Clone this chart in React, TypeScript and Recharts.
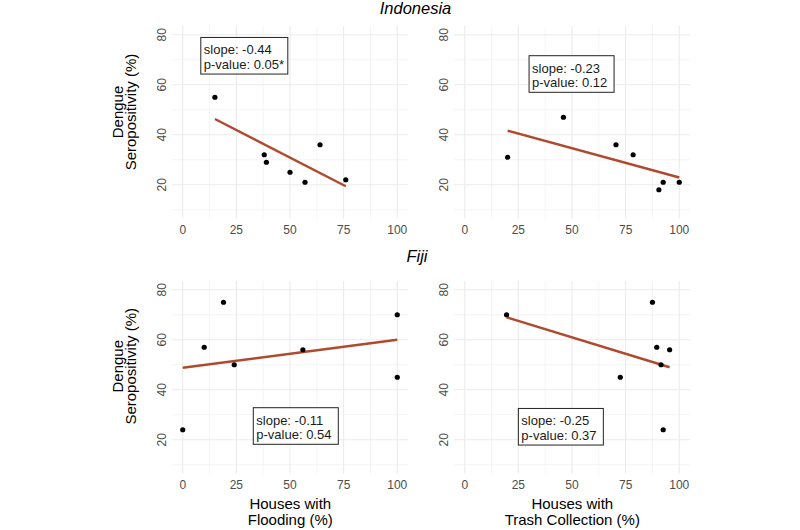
import { ScatterChart, Scatter, XAxis, YAxis, ReferenceLine, ReferenceDot } from 'recharts';

// axis breaks shared by all four panels
const xTicks = [0, 25, 50, 75, 100];
const xMinor = [12.5, 37.5, 62.5, 87.5];
const yTicks = [20, 40, 60, 80];
const yMinor = [10, 30, 50, 70];

// Indonesia - flooding
const idnFloodX = [15, 38, 39, 50, 57, 64, 76];
const idnFloodY = [55, 32, 29, 25, 21, 36, 22];
const idnFloodFitX = [15, 76];
const idnFloodFitY = [46.3, 19.4];

// Indonesia - trash collection
const idnTrashX = [20, 46, 70.5, 78.5, 90.5, 92.5, 100];
const idnTrashY = [31, 47, 36, 32, 18, 21, 21];
const idnTrashFitX = [20, 100];
const idnTrashFitY = [41.6, 22.9];

// Fiji - flooding
const fjiFloodX = [0, 10, 19, 24, 56, 100, 100];
const fjiFloodY = [24, 57, 75, 50, 56, 70, 45];
const fjiFloodFitX = [0, 100];
const fjiFloodFitY = [48.8, 60];

// Fiji - trash collection
const fjiTrashX = [19.5, 72.5, 87.5, 89.5, 91.5, 92.5, 95.5];
const fjiTrashY = [70, 45, 75, 57, 50, 24, 56];
const fjiTrashFitX = [19.5, 95.5];
const fjiTrashFitY = [69, 49];

const FONT = '"Liberation Sans", Arial, Helvetica, sans-serif';
const GRID = '#EBEBEB';
const FIT = '#B04A2F';
const TICK = '#4D4D4D';

const PW = 236;
const PH = 192.5;
const AXW = 45;
const AXH = 30;

const XTick = (props: any) => (
  <text x={props.x} y={PH + 15.3} textAnchor="middle" fill={TICK} fontSize={12} fontFamily={FONT}>
    {props.payload.value}
  </text>
);

const YTick = (props: any) => (
  <text
    transform={`translate(${AXW - 10},${props.y}) rotate(-90)`}
    y={4.3}
    textAnchor="middle"
    fill={TICK}
    fontSize={12}
    fontFamily={FONT}
  >
    {props.payload.value}
  </text>
);

const NoteBox = ({ cx, cy, w, lines }: { cx: number; cy: number; w: number; lines: string[] }) => {
  const top = cy - 18.3;
  const left = cx - w / 2;
  return (
    <g>
      <rect x={left} y={top} width={w} height={36.6} fill="#fff" stroke="#222" strokeWidth={1} />
      <text x={left + 3} y={top + 16.8} fontSize={13} fill="#1a1a1a" fontFamily={FONT}>{lines[0]}</text>
      <text x={left + 3} y={top + 31.3} fontSize={13} fill="#1a1a1a" fontFamily={FONT}>{lines[1]}</text>
    </g>
  );
};

type PanelProps = {
  left: number;
  top: number;
  xs: number[];
  ys: number[];
  fitX: number[];
  fitY: number[];
  note: string[];
  noteX: number;
  noteY: number;
  noteW: number;
};

const Panel = (p: PanelProps) => {
  const pts = p.xs.map((x, i) => ({ x, y: p.ys[i] }));
  return (
    <div style={{ position: 'absolute', left: p.left - AXW, top: p.top }}>
      <ScatterChart width={PW + AXW} height={PH + AXH} margin={{ top: 0, right: 0, bottom: 0, left: 0 }}>
        <XAxis
          type="number"
          dataKey="x"
          domain={[-5, 105]}
          ticks={xTicks}
          interval={0}
          allowDataOverflow
          axisLine={false}
          tickLine={false}
          height={AXH}
          tick={(t: any) => <XTick {...t} />}
        />
        <YAxis
          type="number"
          dataKey="y"
          domain={[6.5, 83.5]}
          ticks={yTicks}
          interval={0}
          allowDataOverflow
          axisLine={false}
          tickLine={false}
          width={AXW}
          tick={(t: any) => <YTick {...t} />}
        />
        {xMinor.map((v) => <ReferenceLine key={'xm' + v} x={v} stroke={GRID} strokeWidth={0.55} />)}
        {yMinor.map((v) => <ReferenceLine key={'ym' + v} y={v} stroke={GRID} strokeWidth={0.55} />)}
        {xTicks.map((v) => <ReferenceLine key={'x' + v} x={v} stroke={GRID} strokeWidth={1.1} />)}
        {yTicks.map((v) => <ReferenceLine key={'y' + v} y={v} stroke={GRID} strokeWidth={1.1} />)}
        <ReferenceLine
          segment={[{ x: p.fitX[0], y: p.fitY[0] }, { x: p.fitX[1], y: p.fitY[1] }]}
          stroke={FIT}
          strokeWidth={2.4}
        />
        <Scatter
          data={pts}
          isAnimationActive={false}
          shape={(s: any) => <circle cx={s.cx} cy={s.cy} r={2.6} fill="#000" />}
        />
        <ReferenceDot
          x={p.noteX}
          y={p.noteY}
          r={0}
          ifOverflow="visible"
          shape={(s: any) => <NoteBox cx={s.cx} cy={s.cy} w={p.noteW} lines={p.note} />}
        />
      </ScatterChart>
    </div>
  );
};

const LEFT_X = 172.3;
const RIGHT_X = 454.3;
const TOP_Y = 26.25;
const BOTTOM_Y = 280.5;

const yTitle = (cy: number) => (
  <g>
    <text transform={`translate(123,${cy}) rotate(-90)`} textAnchor="middle" fontSize={15}>Dengue</text>
    <text transform={`translate(136.3,${cy}) rotate(-90)`} textAnchor="middle" fontSize={15}>Seropositivity (%)</text>
  </g>
);

export default function App() {
  return (
    <div style={{ position: 'relative', width: 800, height: 530, background: '#fff', fontFamily: FONT, overflow: 'hidden' }}>
      <style>{'body{margin:0}'}</style>
      <Panel left={LEFT_X} top={TOP_Y} xs={idnFloodX} ys={idnFloodY} fitX={idnFloodFitX} fitY={idnFloodFitY}
        note={['slope: -0.44', 'p-value: 0.05*']} noteX={28.7} noteY={71.6} noteW={87} />
      <Panel left={RIGHT_X} top={TOP_Y} xs={idnTrashX} ys={idnTrashY} fitX={idnTrashFitX} fitY={idnTrashFitY}
        note={['slope: -0.23', 'p-value: 0.12']} noteX={49.8} noteY={64.3} noteW={85} />
      <Panel left={LEFT_X} top={BOTTOM_Y} xs={fjiFloodX} ys={fjiFloodY} fitX={fjiFloodFitX} fitY={fjiFloodFitY}
        note={['slope: -0.11', 'p-value: 0.54']} noteX={52.7} noteY={25.5} noteW={85} />
      <Panel left={RIGHT_X} top={BOTTOM_Y} xs={fjiTrashX} ys={fjiTrashY} fitX={fjiTrashFitX} fitY={fjiTrashFitY}
        note={['slope: -0.25', 'p-value: 0.37']} noteX={44.8} noteY={25.2} noteW={85} />
      <svg width={800} height={530} style={{ position: 'absolute', left: 0, top: 0, pointerEvents: 'none' }} fontFamily={FONT} fill="#000">
        <text x={415.5} y={14} textAnchor="middle" fontSize={16.5} fontStyle="italic">Indonesia</text>
        <text x={417} y={262} textAnchor="middle" fontSize={16.5} fontStyle="italic">Fiji</text>
        {yTitle(112)}
        {yTitle(366.25)}
        <text x={290.3} y={508.5} textAnchor="middle" fontSize={15}>Houses with</text>
        <text x={290.3} y={525} textAnchor="middle" fontSize={15}>Flooding (%)</text>
        <text x={572.3} y={508.5} textAnchor="middle" fontSize={15}>Houses with</text>
        <text x={572.3} y={525} textAnchor="middle" fontSize={15}>Trash Collection (%)</text>
      </svg>
    </div>
  );
}
